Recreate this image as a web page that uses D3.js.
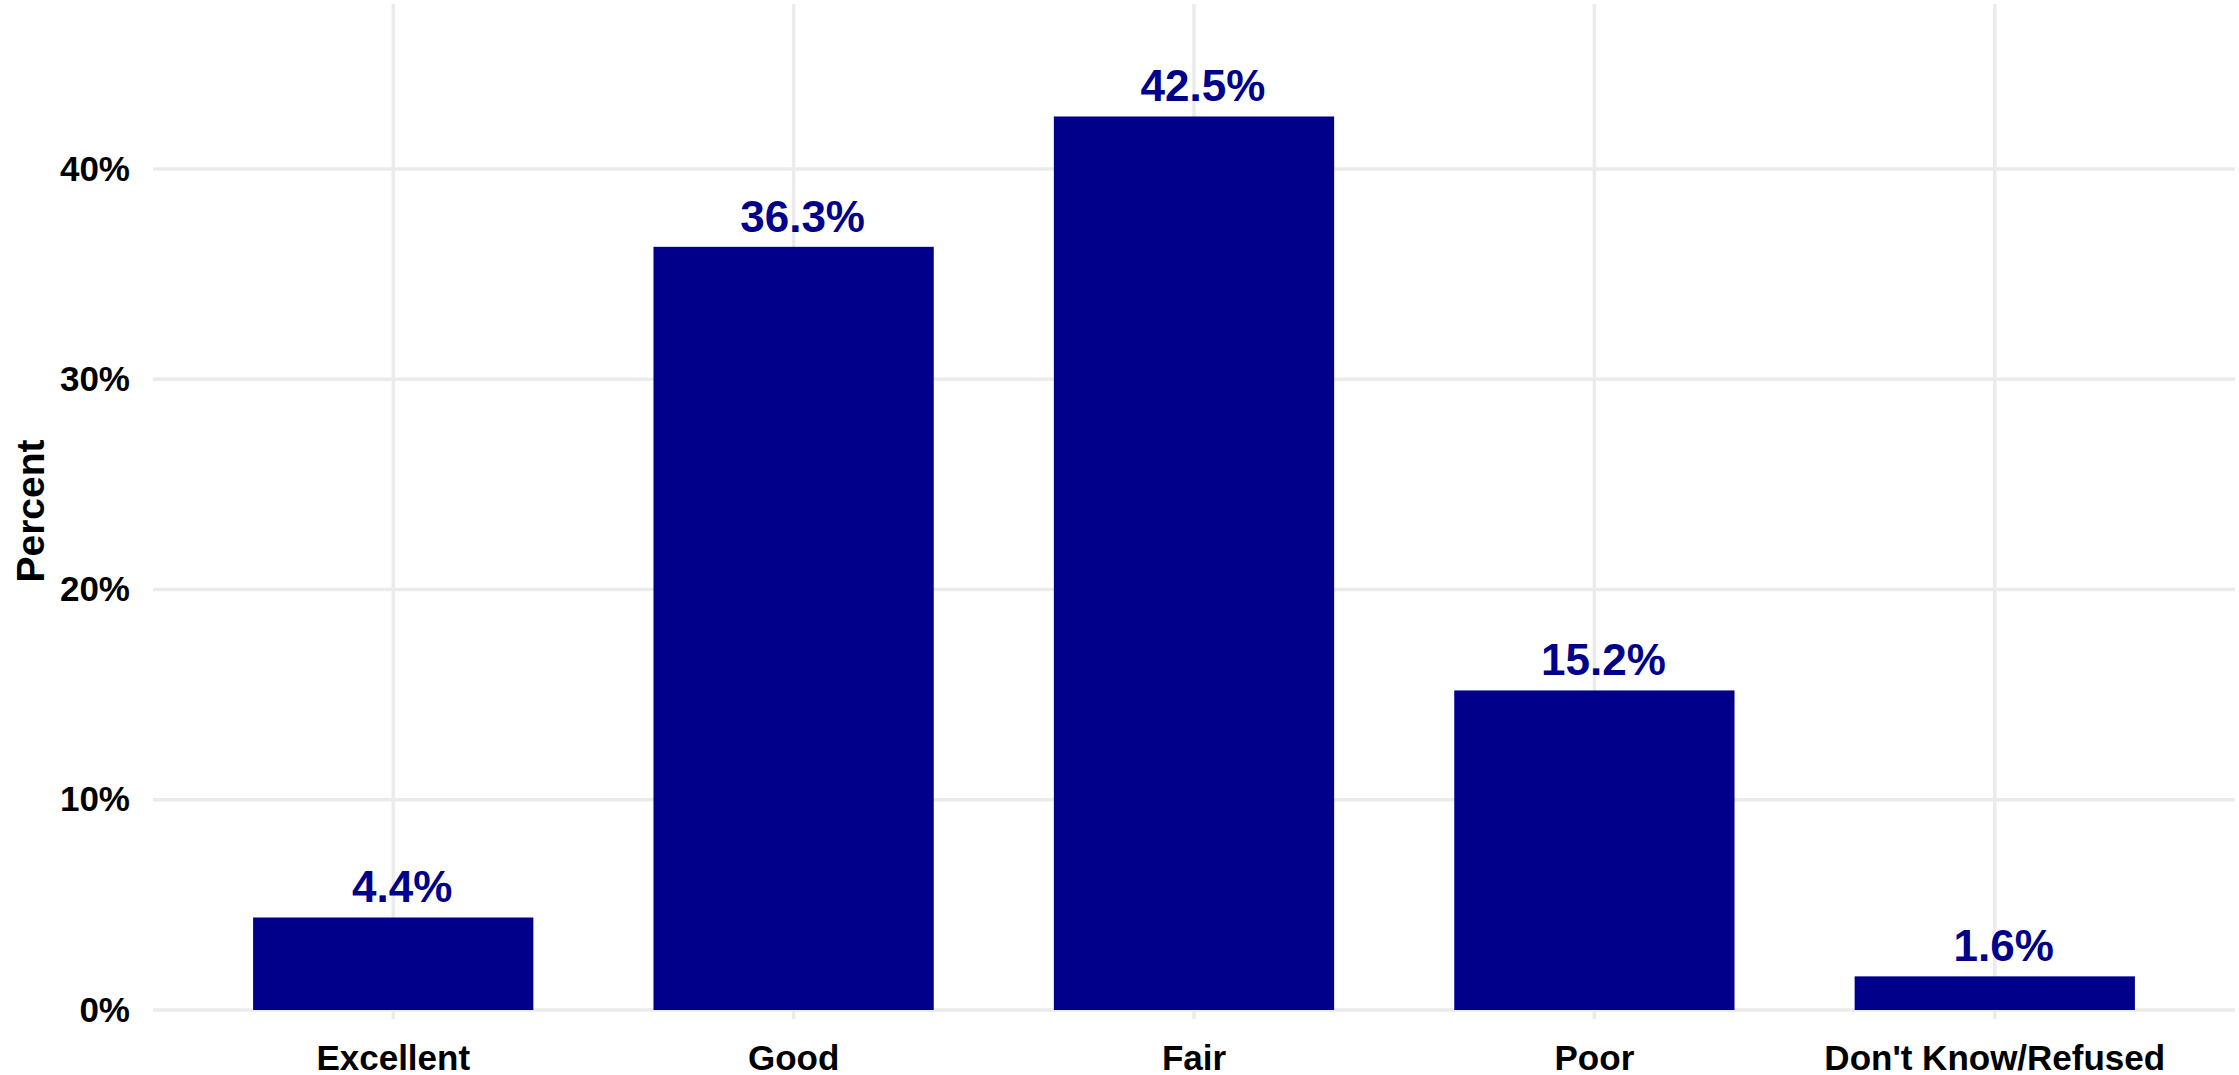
<!DOCTYPE html>
<html>
<head>
<meta charset="utf-8">
<script src="https://cdn.jsdelivr.net/npm/d3@7"></script>
<style>
  html, body { margin: 0; padding: 0; background: #fff; }
  svg { display: block; }
  text { font-family: "Liberation Sans", Arial, sans-serif; font-weight: bold; }
</style>
</head>
<body>
<svg id="chart" width="2239" height="1075"></svg>
<script>
// Survey response categories and the share of respondents in each (percent)
const categories = ["Excellent", "Good", "Fair", "Poor", "Don't Know/Refused"];
const percents = [4.4, 36.3, 42.5, 15.2, 1.6];
const yTicks = [0, 10, 20, 30, 40];
const yTitle = "Percent";

const W = 2239, H = 1075;
const panel = { left: 153, right: 2235, top: 4, bottom: 1010 };
const barColor = "#00008B";
const gridColor = "#EBEBEB";

const svg = d3.select("#chart");

const x = d3.scaleBand()
  .domain(categories)
  .range([panel.left, panel.right])
  .paddingInner(0.3)
  .paddingOuter(0.25);

const y = d3.scaleLinear()
  .domain([0, 47.85])
  .range([panel.bottom, panel.top]);

const data = categories.map((c, i) => ({ cat: c, val: percents[i] }));

// horizontal grid lines
svg.append("g")
  .selectAll("line")
  .data(yTicks)
  .join("line")
  .attr("x1", panel.left).attr("x2", panel.right)
  .attr("y1", d => y(d)).attr("y2", d => y(d))
  .attr("stroke", gridColor).attr("stroke-width", 3.5);

// vertical grid lines at each category
svg.append("g")
  .selectAll("line")
  .data(categories)
  .join("line")
  .attr("x1", d => x(d) + x.bandwidth() / 2).attr("x2", d => x(d) + x.bandwidth() / 2)
  .attr("y1", panel.top).attr("y2", panel.bottom)
  .attr("stroke", gridColor).attr("stroke-width", 3.5);

// bars
svg.append("g")
  .selectAll("rect")
  .data(data)
  .join("rect")
  .attr("x", d => x(d.cat))
  .attr("width", x.bandwidth())
  .attr("y", d => y(d.val))
  .attr("height", d => y(0) - y(d.val))
  .attr("fill", barColor);

// value labels above bars
svg.append("g")
  .selectAll("text")
  .data(data)
  .join("text")
  .attr("x", d => x(d.cat) + x.bandwidth() / 2 + 9)
  .attr("y", d => y(d.val) - 15)
  .attr("text-anchor", "middle")
  .attr("font-size", 44)
  .attr("fill", barColor)
  .text(d => d.val.toFixed(1) + "%");

// x axis: light ticks, no domain line
const xAxis = svg.append("g")
  .attr("transform", `translate(0,${panel.bottom})`)
  .call(d3.axisBottom(x).tickSize(9).tickPadding(26));
xAxis.select(".domain").remove();
xAxis.selectAll(".tick line").attr("stroke", gridColor).attr("stroke-width", 3.5);
xAxis.selectAll(".tick text")
  .attr("font-size", 35)
  .attr("fill", "#000")
  .attr("font-family", "'Liberation Sans', Arial, sans-serif")
  .attr("font-weight", "bold");

// y axis: labels only
const yAxis = svg.append("g")
  .attr("transform", `translate(${panel.left},0)`)
  .call(d3.axisLeft(y).tickValues(yTicks).tickFormat(d => d + "%").tickSize(0).tickPadding(23));
yAxis.select(".domain").remove();
yAxis.selectAll(".tick text")
  .attr("font-size", 35)
  .attr("fill", "#000")
  .attr("font-family", "'Liberation Sans', Arial, sans-serif")
  .attr("font-weight", "bold");

// y axis title
svg.append("text")
  .attr("transform", `translate(44,${(panel.top + panel.bottom) / 2 + 4}) rotate(-90)`)
  .attr("text-anchor", "middle")
  .attr("font-size", 39)
  .attr("fill", "#000")
  .text(yTitle);
</script>
</body>
</html>
